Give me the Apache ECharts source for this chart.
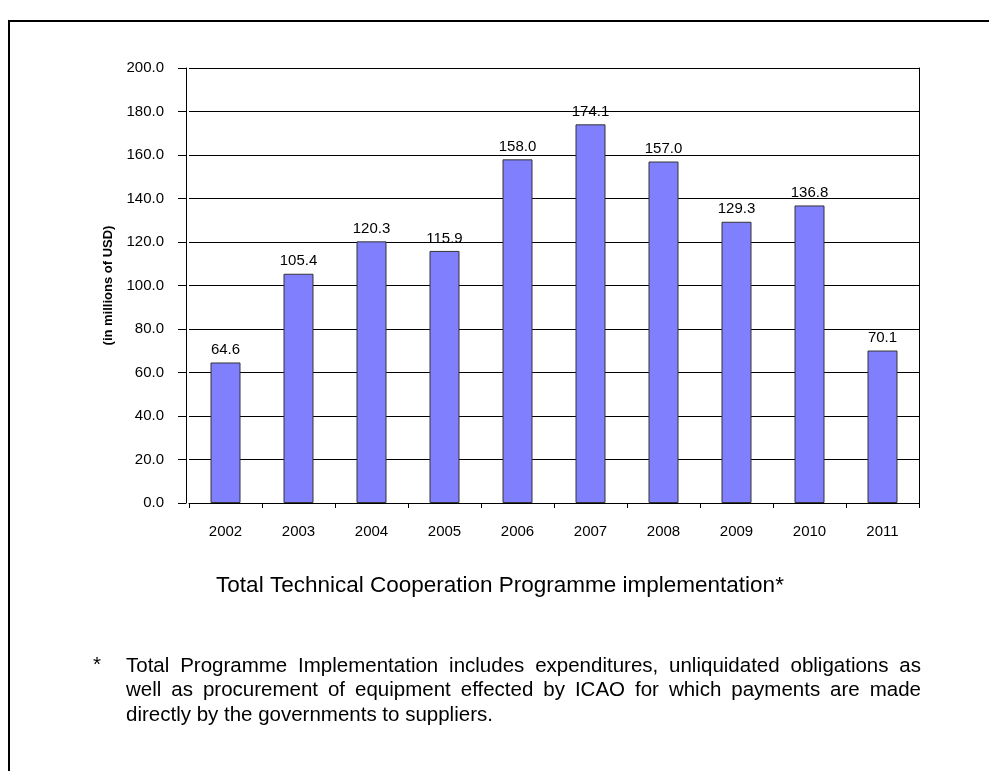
<!DOCTYPE html>
<html>
<head>
<meta charset="utf-8">
<script src="https://cdn.jsdelivr.net/npm/echarts@6/dist/echarts.min.js"></script>
<style>
  html, body { margin: 0; padding: 0; background: #fff; }
  #chart { width: 989px; height: 771px; }
</style>
</head>
<body>
<div id="chart"></div>
<script>
// chart data
var years = ['2002', '2003', '2004', '2005', '2006', '2007', '2008', '2009', '2010', '2011']
var implementation = [64.6, 105.4, 120.3, 115.9, 158.0, 174.1, 157.0, 129.3, 136.8, 70.1]
var yTicks = [0, 20, 40, 60, 80, 100, 120, 140, 160, 180, 200]

var titleText = 'Total Technical Cooperation Programme implementation*'
var footLines = [
  'Total Programme Implementation includes expenditures, unliquidated obligations as',
  'well as procurement of equipment effected by ICAO for which payments are made',
  'directly by the governments to suppliers.'
]

var font = '"Liberation Sans", Arial, sans-serif'
var footFont = '20.5px ' + font
var chart = echarts.init(document.getElementById('chart'))

// measure words so the footnote can be justified like the original
var ctx = document.createElement('canvas').getContext('2d')
ctx.font = footFont

var graphics = [
  { // page frame
    type: 'polyline',
    shape: { points: [[9, 771], [9, 21], [989, 21]] },
    style: { stroke: '#000', lineWidth: 2, fill: null }
  },
  {
    type: 'text', x: 500, y: 586,
    style: { text: titleText, font: '22.5px ' + font, fill: '#000', align: 'center', verticalAlign: 'middle' }
  },
  {
    type: 'text', x: 97, y: 665,
    style: { text: '*', font: footFont, fill: '#000', align: 'center', verticalAlign: 'middle' }
  }
]

var footLeft = 126
var footWidth = 795
footLines.forEach(function (line, i) {
  var y = 666 + i * 24.5
  var words = line.split(' ')
  if (i === footLines.length - 1) {
    graphics.push({
      type: 'text', x: footLeft, y: y,
      style: { text: line, font: footFont, fill: '#000', align: 'left', verticalAlign: 'middle' }
    })
    return
  }
  var total = 0
  words.forEach(function (w) { total += ctx.measureText(w).width })
  var gap = (footWidth - total) / (words.length - 1)
  var x = footLeft
  words.forEach(function (w) {
    graphics.push({
      type: 'text', x: x, y: y,
      style: { text: w, font: footFont, fill: '#000', align: 'left', verticalAlign: 'middle' }
    })
    x += ctx.measureText(w).width + gap
  })
})

chart.setOption({
  animation: false,
  textStyle: { fontFamily: font },
  grid: {
    left: 189,
    right: 70,
    top: 68,
    bottom: 268
  },
  xAxis: {
    type: 'category',
    data: years,
    axisLine: { lineStyle: { color: '#000', width: 1 } },
    axisTick: { show: true, length: 5, lineStyle: { color: '#000' } },
    axisLabel: { color: '#000', fontSize: 15, margin: 21 }
  },
  yAxis: [{
    type: 'value',
    min: yTicks[0],
    max: yTicks[yTicks.length - 1],
    interval: yTicks[1] - yTicks[0],
    offset: 3,
    name: '(in millions of USD)',
    nameLocation: 'middle',
    nameGap: 71,
    nameTextStyle: { color: '#000', fontSize: 13, fontWeight: 'bold' },
    axisLine: { show: true, lineStyle: { color: '#000', width: 1 } },
    axisTick: { show: true, length: 8, lineStyle: { color: '#000' } },
    axisLabel: {
      color: '#000', fontSize: 15, margin: 22,
      formatter: function (v) { return v.toFixed(1) }
    },
    splitLine: { lineStyle: { color: '#000', width: 1 } }
  }, {
    // right edge of the plot frame
    type: 'value',
    position: 'right',
    min: yTicks[0],
    max: yTicks[yTicks.length - 1],
    interval: yTicks[1] - yTicks[0],
    axisLine: { show: true, lineStyle: { color: '#000', width: 1 } },
    axisTick: { show: false },
    axisLabel: { show: false },
    splitLine: { show: false }
  }],
  series: [{
    type: 'bar',
    data: implementation,
    barWidth: 30,
    itemStyle: { color: '#8080FF', borderColor: '#333', borderWidth: 1 },
    label: {
      show: true,
      position: 'top',
      distance: 5,
      color: '#000',
      fontSize: 15,
      formatter: function (p) { return p.value.toFixed(1) }
    }
  }],
  graphic: graphics
})
</script>
</body>
</html>
